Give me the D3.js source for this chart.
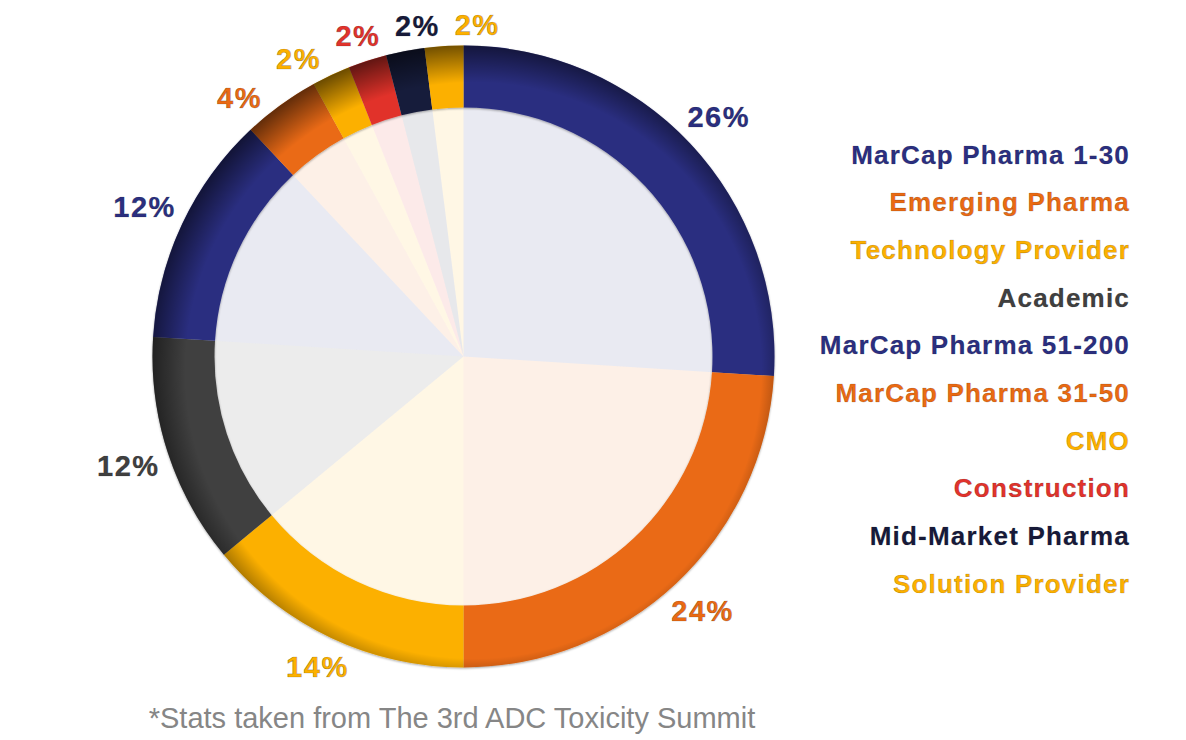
<!DOCTYPE html>
<html>
<head>
<meta charset="utf-8">
<script src="https://cdn.jsdelivr.net/npm/d3@7/dist/d3.min.js"></script>
<style>
  html, body { margin: 0; padding: 0; background: #fff; }
  svg { display: block; }
  text { font-family: "Liberation Sans", Arial, Helvetica, sans-serif; }
</style>
</head>
<body>
<svg id="chart" width="1186" height="740"></svg>
<script>
// survey breakdown, clockwise from 12 o'clock
var categories = ["MarCap Pharma 1-30", "Emerging Pharma", "Technology Provider", "Academic",
                  "MarCap Pharma 51-200", "MarCap Pharma 31-50", "CMO", "Construction",
                  "Mid-Market Pharma", "Solution Provider"];
var shares = [26, 24, 14, 12, 12, 4, 2, 2, 2, 2];
var footnote = "*Stats taken from The 3rd ADC Toxicity Summit";

var colors = ["#2b2f80", "#ea6a13", "#fcb000", "#404040", "#2b2f80",
              "#ea6a13", "#fcb000", "#e1332c", "#171a3a", "#fcb000"];

var svg = d3.select("#chart"),
    cx = 463.5, cy = 356.5,
    outerR = 311, innerR = 249;

var data = categories.map(function(c, i) { return {name: c, value: shares[i], color: colors[i]}; });

var pie = d3.pie().sort(null).value(function(d) { return d.value; });
var arcs = pie(data);

var defs = svg.append("defs");

// darkening of the ring towards the upper-left outer edge
// (userSpaceOnUse -> coordinates are relative to the translated group)
var shade = defs.append("radialGradient")
    .attr("id", "shade")
    .attr("gradientUnits", "userSpaceOnUse")
    .attr("cx", 10).attr("cy", 14)
    .attr("r", outerR + 20);
shade.append("stop").attr("offset", "0.87").attr("stop-color", "#000").attr("stop-opacity", 0);
shade.append("stop").attr("offset", "1").attr("stop-color", "#000").attr("stop-opacity", 0.62);

var drop = defs.append("filter").attr("id", "drop")
    .attr("x", "-10%").attr("y", "-10%").attr("width", "120%").attr("height", "120%");
drop.append("feDropShadow").attr("dx", 0).attr("dy", 1).attr("stdDeviation", 0.8)
    .attr("flood-color", "#000").attr("flood-opacity", 0.35);

var g = svg.append("g").attr("transform", "translate(" + cx + "," + cy + ")");

// pale inner pie
var innerArc = d3.arc().innerRadius(0).outerRadius(innerR + 1);
g.append("g").selectAll("path")
    .data(arcs)
    .enter().append("path")
    .attr("d", innerArc)
    .attr("fill", function(d) { return d.data.color; })
    .attr("fill-opacity", 0.1);

// coloured ring
var ringArc = d3.arc().innerRadius(innerR).outerRadius(outerR);
var ring = g.append("g").attr("filter", "url(#drop)");
ring.selectAll("path")
    .data(arcs)
    .enter().append("path")
    .attr("d", ringArc)
    .attr("fill", function(d) { return d.data.color; });

g.append("path")
    .attr("d", d3.arc().innerRadius(innerR).outerRadius(outerR).startAngle(0).endAngle(2 * Math.PI)())
    .attr("fill", "url(#shade)");

// percentage labels: start at the slice mid-angle, sit just outside the ring,
// then spread neighbours apart so they don't collide
var labels = g.append("g").selectAll("text")
    .data(arcs)
    .enter().append("text")
    .attr("dy", "0.36em")
    .attr("text-anchor", "middle")
    .attr("font-size", 29)
    .attr("font-weight", "bold")
    .attr("letter-spacing", 1.5)
    .attr("fill", function(d) { return d.data.color; })
    .attr("stroke", "rgba(0,0,0,0.3)")
    .attr("stroke-width", 0.7)
    .text(function(d) { return d.data.value + "%"; });

var gap = 8, halfH = 12, pad = 14;
var lab = [];
labels.each(function(d) {
    lab.push({a: (d.startAngle + d.endAngle) / 2, hw: this.getComputedTextLength() / 2});
});
function place(l) {
    var r = outerR + gap + Math.abs(Math.sin(l.a)) * l.hw + Math.abs(Math.cos(l.a)) * halfH;
    l.x = r * Math.sin(l.a);
    l.y = -r * Math.cos(l.a);
}
lab.forEach(place);
for (var it = 0; it < 400; it++) {
    var moved = false;
    for (var i = 0; i < lab.length - 1; i++) {
        var p = lab[i], q = lab[i + 1];
        var ox = (p.hw + q.hw + pad) - Math.abs(p.x - q.x),
            oy = (2 * halfH + pad) - Math.abs(p.y - q.y);
        if (ox > 0 && oy > 0) {
            p.a -= 0.002; q.a += 0.002;
            place(p); place(q);
            moved = true;
        }
    }
    if (!moved) break;
}
labels.attr("transform", function(d, i) { return "translate(" + lab[i].x + "," + lab[i].y + ")"; });

// legend
var ly = d3.scalePoint().domain(categories).range([163.5, 592.7]);
svg.append("g").selectAll("text")
    .data(data)
    .enter().append("text")
    .attr("x", 1130)
    .attr("y", function(d) { return ly(d.name); })
    .attr("text-anchor", "end")
    .attr("font-size", 26)
    .attr("font-weight", "bold")
    .attr("letter-spacing", 1.2)
    .attr("fill", function(d) { return d.color; })
    .attr("stroke", "rgba(0,0,0,0.25)")
    .attr("stroke-width", 0.6)
    .text(function(d) { return d.name; });

svg.append("text")
    .attr("x", 452)
    .attr("y", 728)
    .attr("text-anchor", "middle")
    .attr("font-size", 29)
    .attr("fill", "#868686")
    .text(footnote);
</script>
</body>
</html>
